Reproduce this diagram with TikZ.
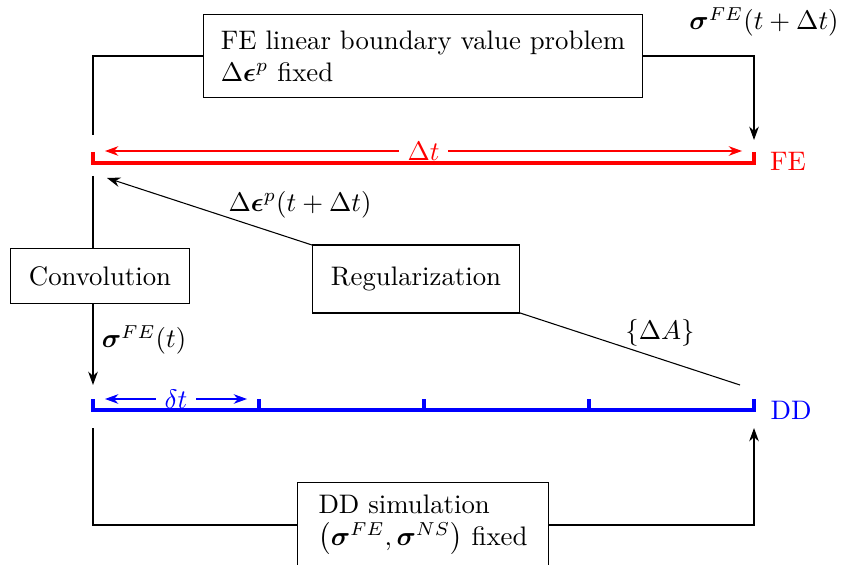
\documentclass[tikz,border=0pt]{standalone}
\usepackage{amsmath, amssymb}
\usetikzlibrary{arrows.meta}
\begin{document}
\begin{tikzpicture}[x=0.01313cm,y=-0.01313cm]
      \colorlet{fecolor}{red}
      \colorlet{ddcolor}{blue}
      \tikzset{box/.style={draw,align=left,inner xsep=5pt},
        timeline/.style={line width=1.6pt},
        conn/.style={-{Stealth[length=5pt,width=3.6pt]}},
        dim/.style={{Stealth[length=5pt,width=3.6pt]}-{Stealth[length=5pt,width=3.6pt]}}}
      \useasboundingbox (0,0) rectangle (844,564);

      % dimension arrows
      \coordinate (dt-a) at (105,151);
      \coordinate (dt-b) at (742,151);
      \draw[fecolor,dim] (dt-a) -- node[fill=white,inner ysep=0pt]{$\Delta t$} (dt-b);
      \coordinate (ddt-a) at (105,399);
      \coordinate (ddt-b) at (247,399);
      \draw[ddcolor,dim] (ddt-a) -- node[fill=white,inner ysep=0pt]{$\delta t$} (ddt-b);

      % time axes
      \draw[timeline,fecolor] (93,152) -- (93,163) -- (754,163) -- (754,152);
      \draw[timeline,ddcolor] (93,399) -- (93,410) -- (754,410) -- (754,399);
      \foreach \x in {259,424,589}
          \draw[timeline,ddcolor] (\x,410) -- (\x,399);
      \node[fecolor] (felab) at (788,161) {FE};
      \node[ddcolor] (ddlab) at (791,410) {DD};

      % loose ends
      \coordinate (fe-out) at (93,135);
      \coordinate (fe-in) at (754,140);
      \coordinate (fe-down) at (93,176);
      \coordinate (fe-reg) at (107,178);
      \coordinate (dd-in) at (93,385);
      \coordinate (dd-reg) at (740,385);
      \coordinate (dd-out) at (93,428);
      \coordinate (dd-back) at (754,428);

      \node[box,minimum width=164pt,minimum height=30.7pt] (febvp) at (423,56)
          {FE linear boundary value problem\\ $\Delta\boldsymbol{\epsilon}^p$ fixed};
      \node[box,minimum width=67pt,minimum height=20.6pt] (conv) at (100,276) {Convolution};
      \node[box,minimum width=77pt,minimum height=25.4pt] (reg) at (416,279) {Regularization};
      \node[box,minimum width=93.5pt,minimum height=32pt] (ddsim) at (423,525)
          {DD simulation\\ $\bigl(\boldsymbol{\sigma}^{FE},\boldsymbol{\sigma}^{NS}\bigr)$ fixed};

      \draw (fe-out) |- (febvp.west);
      \draw[conn] (febvp.east) -| (fe-in);
      \draw (fe-down) -- (fe-down |- conv.north);
      \draw[conn] (conv.south -| dd-in) -- (dd-in);
      \draw (dd-out) |- (ddsim.west);
      \draw[conn] (ddsim.east) -| (dd-back);
      \draw (dd-reg) -- (reg);
      \draw[conn] (reg) -- (fe-reg);

      \node (sig-new) at (764,22) {$\boldsymbol{\sigma}^{FE}(t+\Delta t)$};
      \node (sig-old) at (144,340) {$\boldsymbol{\sigma}^{FE}(t)$};
      \node (deps) at (300,205) {$\Delta\boldsymbol{\epsilon}^p(t+\Delta t)$};
      \node (dA) at (660,333) {$\{\Delta A\}$};
\end{tikzpicture}
\end{document}
